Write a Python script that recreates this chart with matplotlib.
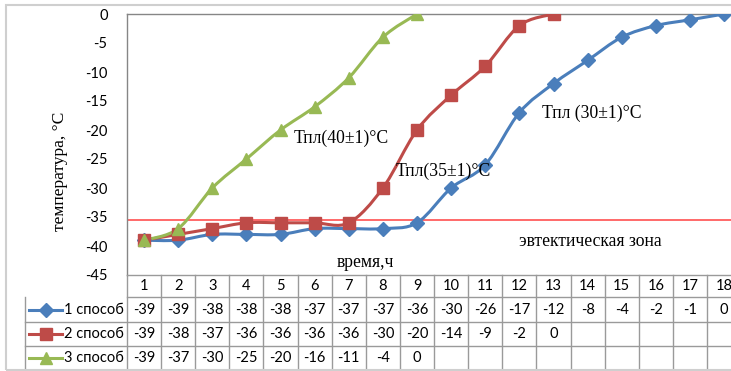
import matplotlib
matplotlib.use('Agg')
import matplotlib.pyplot as plt
import matplotlib.transforms as mtransforms
from matplotlib.path import Path
from matplotlib.patches import PathPatch, Rectangle

hours = list(range(1, 19))
method1 = [-39, -39, -38, -38, -38, -37, -37, -37, -36, -30, -26, -17, -12, -8, -4, -2, -1, 0]
method2 = [-39, -38, -37, -36, -36, -36, -36, -30, -20, -14, -9, -2, 0]
method3 = [-39, -37, -30, -25, -20, -16, -11, -4, 0]
series_names = ['1 способ', '2 способ', '3 способ']
eutectic_level = -35.5

colors = ['#4A7EBB', '#BE4B48', '#98B954']
markers = ['D', 's', '^']
msizes = [7, 8, 8.5]
GRID = '#9a9a9a'
SANS = 'Lato'
SERIF = 'Liberation Serif'
SERIF_SIZE = 12.7

W, H = 731, 371
fig = plt.figure(figsize=(W / 100, H / 100), dpi=100)

# chart area frame (runs off the right edge)
fig.patches.append(Rectangle((6 / W, 1.5 / H), 1.0, (H - 6) / H, transform=fig.transFigure,
                             fill=False, ec='#cfcfcf', lw=1.5))

ax_left, ax_top, ax_bottom = 127, 14, 275
ax_w = 18 * 34.12
ax = fig.add_axes([ax_left / W, (H - ax_bottom) / H, ax_w / W, (ax_bottom - ax_top) / H])
ax.set_xlim(0.5, 18.5)
ax.set_ylim(-45, 0)
ax.set_yticks(range(-45, 1, 5))
ax.set_yticklabels([str(v) for v in range(-45, 1, 5)], fontfamily=SANS, fontsize=10.5)
ax.tick_params(axis='y', length=0, pad=14)
ax.set_xticks([])
for s in ax.spines.values():
    s.set_color('#868686')
    s.set_linewidth(1.0)
ax.spines['bottom'].set_color(GRID)


def smooth_path(xs, ys):
    # bezier segments with catmull-rom style handles, like a smoothed office line
    n = len(xs)
    verts = [(xs[0], ys[0])]
    codes = [Path.MOVETO]
    for i in range(n - 1):
        x0, y0 = xs[max(i - 1, 0)], ys[max(i - 1, 0)]
        x1, y1 = xs[i], ys[i]
        x2, y2 = xs[i + 1], ys[i + 1]
        x3, y3 = xs[min(i + 2, n - 1)], ys[min(i + 2, n - 1)]
        c1 = (x1 + (x2 - x0) / 6, y1 + (y2 - y0) / 6)
        c2 = (x2 - (x3 - x1) / 6, y2 - (y3 - y1) / 6)
        verts += [c1, c2, (x2, y2)]
        codes += [Path.CURVE4] * 3
    return Path(verts, codes)


all_series = [method1, method2, method3]
for vals, c, m, ms in zip(all_series, colors, markers, msizes):
    xs = hours[:len(vals)]
    ax.add_patch(PathPatch(smooth_path(xs, vals), fill=False, ec=c, lw=2.2,
                           capstyle='round', joinstyle='round', zorder=3))
    ax.plot(xs, vals, ls='none', marker=m, ms=ms, color=c, mec=c, zorder=4)

ax.axhline(eutectic_level, color='#FF5050', lw=1.2, zorder=2)

ax.text(5.39, -21.4, 'Тпл(40±1)°С', fontfamily=SERIF, fontsize=SERIF_SIZE, va='center', ha='left', zorder=5)
ax.text(8.38, -27.2, 'Тпл(35±1)°С', fontfamily=SERIF, fontsize=SERIF_SIZE, va='center', ha='left', zorder=5)
ax.text(12.66, -17.1, 'Тпл (30±1)°С', fontfamily=SERIF, fontsize=SERIF_SIZE, va='center', ha='left', zorder=5)
ax.text(11.99, -39.3, 'эвтектическая зона', fontfamily=SERIF, fontsize=SERIF_SIZE, va='center', ha='left')
ax.text(7.5, -42.8, 'время,ч', fontfamily=SERIF, fontsize=SERIF_SIZE, va='center', ha='center')

fig.text(60 / W, 1 - 171 / H, 'температура, °С', fontfamily=SERIF, fontsize=12.6,
         rotation=90, ha='center', va='center')

# data table under the plot
tr = mtransforms.blended_transform_factory(ax.transData, ax.transAxes)
px = 1 / (ax_bottom - ax_top)
row_edges = [0, -22 * px, -47 * px, -71 * px, -95 * px]
row_mid = [(row_edges[i] + row_edges[i + 1]) / 2 for i in range(4)]
legend_left = 0.5 + (25 - ax_left) / 34.12

for k in range(19):
    xk = 0.5 + k
    ax.plot([xk, xk], [row_edges[0], row_edges[4]], color=GRID, lw=1.0, transform=tr, clip_on=False)
ax.plot([legend_left, legend_left], [row_edges[1], row_edges[4]], color=GRID, lw=1.0, transform=tr, clip_on=False)
ax.plot([0.5, 18.5], [row_edges[1]] * 2, color=GRID, lw=1.0, transform=tr, clip_on=False)
for e in row_edges[2:]:
    ax.plot([legend_left, 18.5], [e, e], color=GRID, lw=1.0, transform=tr, clip_on=False)

for h in hours:
    ax.text(h, row_mid[0], str(h), fontfamily=SANS, fontsize=10.5, ha='center', va='center',
            transform=tr, clip_on=False)

for r, (vals, name, c, m, ms) in enumerate(zip(all_series, series_names, colors, markers, msizes)):
    y = row_mid[r + 1]
    x_sw0 = 0.5 + (29 - ax_left) / 34.12
    x_sw1 = 0.5 + (62 - ax_left) / 34.12
    ax.plot([x_sw0, x_sw1], [y, y], color=c, lw=2.2, transform=tr, clip_on=False)
    ax.plot([(x_sw0 + x_sw1) / 2], [y], marker=m, ms=ms, color=c, transform=tr, clip_on=False)
    ax.text(0.5 + (64 - ax_left) / 34.12, y, name, fontfamily=SANS, fontsize=10.5, ha='left',
            va='center', transform=tr, clip_on=False)
    for h, v in zip(hours, vals):
        ax.text(h, y, str(v), fontfamily=SANS, fontsize=10.5, ha='center', va='center',
                transform=tr, clip_on=False)

fig.savefig('out.png', dpi=100)
